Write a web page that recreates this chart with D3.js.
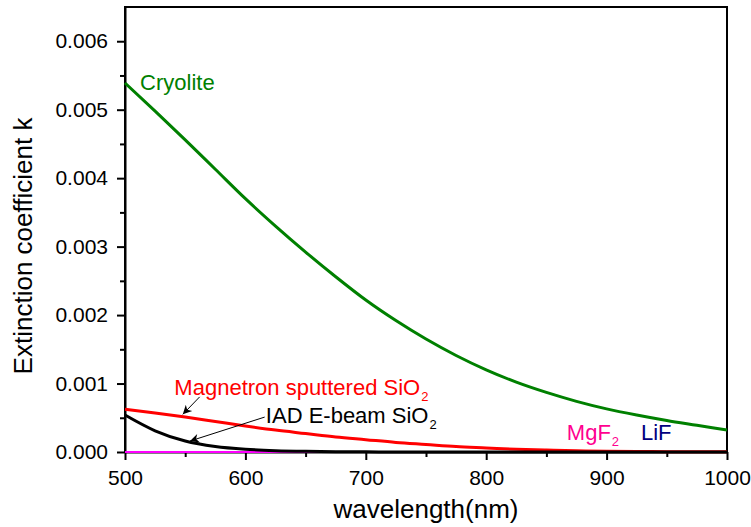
<!DOCTYPE html>
<html>
<head>
<meta charset="utf-8">
<script src="https://cdn.jsdelivr.net/npm/d3@7"></script>
<style>
  body { margin: 0; background: #fff; }
  svg { display: block; font-family: "Liberation Sans", Arial, sans-serif; }
  .tick text { font-size: 21px; fill: #000; }
  .axis path, .axis line { stroke: #000; stroke-width: 2px; }
</style>
</head>
<body>
<svg id="chart" width="751" height="527"></svg>
<script>
// wavelength grid (nm)
const wavelengths = [500, 525, 550, 575, 600, 625, 650, 675, 700, 725, 750, 775, 800, 825, 850, 875, 900, 925, 950, 975, 1000];

// extinction coefficient k
const cryolite = [0.00539, 0.00498, 0.00456, 0.00413, 0.00370, 0.00330, 0.00292, 0.00256, 0.00222, 0.00192, 0.00165, 0.00141, 0.00120, 0.00102, 0.00087, 0.00074, 0.00063, 0.00054, 0.00046, 0.00039, 0.00032];
const magnetronSiO2 = [0.000625, 0.00057, 0.00051, 0.000445, 0.00038, 0.00032, 0.00027, 0.00022, 0.00018, 0.00014, 0.00011, 0.00008, 0.00006, 0.00004, 0.000028, 0.000018, 0.00001, 0.000007, 0.000005, 0.000003, 0.000002];
const iadSiO2 = [0.00054, 0.00031, 0.00016, 0.00008, 0.00004, 0.00002, 0.00001, 0.000005, 0.000002, 0, 0, 0, 0, 0, 0, 0, 0, 0, 0, 0, 0];
const lif = [0, 0, 0, 0, 0, 0, 0, 0, 0, 0, 0, 0, 0, 0, 0, 0, 0, 0, 0, 0, 0];
const mgf2 = [0, 0, 0, 0, 0, 0, 0, 0, 0, 0, 0, 0, 0, 0, 0, 0, 0, 0, 0, 0];   // stops at 975 nm, LiF shows past it

const xTicks = [500, 600, 700, 800, 900, 1000];
const yTicks = [0, 0.001, 0.002, 0.003, 0.004, 0.005, 0.006];

const svg = d3.select('#chart');
const plotL = 125, plotR = 727, plotT = 7, plotB = 452;

const x = d3.scaleLinear().domain([500, 1000]).range([plotL, plotR]);
const y = d3.scaleLinear().domain([0, 0.0065]).range([plotB, plotT]);

// minor ticks
svg.append('g').attr('class', 'axis').attr('transform', `translate(0,${plotB})`)
  .call(d3.axisBottom(x).tickValues([550, 650, 750, 850, 950]).tickSize(5).tickFormat(''))
  .call(g => g.select('.domain').remove());
svg.append('g').attr('class', 'axis').attr('transform', `translate(${plotL},0)`)
  .call(d3.axisLeft(y).tickValues([0.0005, 0.0015, 0.0025, 0.0035, 0.0045, 0.0055]).tickSize(5).tickFormat(''))
  .call(g => g.select('.domain').remove());

// frame
svg.append('path')
  .attr('d', `M${plotL},${plotB}V${plotT}H${plotR}V${plotB}`)
  .attr('fill', 'none').attr('stroke', '#000').attr('stroke-width', 2);

// main axes
svg.append('g').attr('class', 'axis').attr('transform', `translate(0,${plotB})`)
  .call(d3.axisBottom(x).tickValues(xTicks).tickSize(8).tickSizeOuter(0).tickPadding(10).tickFormat(d3.format('d')));
svg.append('g').attr('class', 'axis').attr('transform', `translate(${plotL},0)`)
  .call(d3.axisLeft(y).tickValues(yTicks).tickSize(8).tickSizeOuter(0).tickPadding(9).tickFormat(d3.format('.3f')));

function drawLine(values, color, width) {
  const pts = values.map((v, i) => [wavelengths[i], v]);
  svg.append('path')
    .datum(pts)
    .attr('fill', 'none')
    .attr('stroke', color)
    .attr('stroke-width', width)
    .attr('d', d3.line().x(d => x(d[0])).y(d => y(d[1])).curve(d3.curveMonotoneX));
}

drawLine(lif, '#0000cc', 2);
drawLine(mgf2, '#ff00ff', 2);
drawLine(cryolite, '#008000', 3);
drawLine(magnetronSiO2, '#ff0000', 3);
drawLine(iadSiO2, '#000000', 3);

// axis titles
svg.append('text')
  .attr('x', (plotL + plotR) / 2).attr('y', 518)
  .attr('text-anchor', 'middle').attr('font-size', 26)
  .text('wavelength(nm)');
svg.append('text')
  .attr('transform', 'translate(32,246) rotate(-90)')
  .attr('text-anchor', 'middle').attr('font-size', 26)
  .text('Extinction coefficient k');

// curve labels
const labels = [
  {wl: 512.5, k: 0.00529, text: 'Cryolite', sub: '', color: '#008000'},
  {wl: 541, k: 0.000835, text: 'Magnetron sputtered SiO', sub: '2', color: '#ff0000'},
  {wl: 617, k: 0.000425, text: 'IAD E-beam SiO', sub: '2', color: '#000000'},
  {wl: 867, k: 0.000176, text: 'MgF', sub: '2', color: '#ff0090'},
  {wl: 928.5, k: 0.000176, text: 'LiF', sub: '', color: '#000080'}
];
labels.forEach(l => {
  const t = svg.append('text')
    .attr('x', x(l.wl)).attr('y', y(l.k))
    .attr('font-size', 22).attr('fill', l.color);
  t.append('tspan').text(l.text);
  if (l.sub) t.append('tspan').attr('dx', 1).attr('dy', 6).attr('font-size', 13).text(l.sub);
});

// arrows
svg.append('defs').append('marker')
  .attr('id', 'arrow').attr('viewBox', '0 0 10 10')
  .attr('refX', 10).attr('refY', 5)
  .attr('markerWidth', 12).attr('markerHeight', 9)
  .attr('markerUnits', 'userSpaceOnUse')
  .attr('orient', 'auto')
  .append('path').attr('d', 'M0,0L10,5L0,10L3,5Z').attr('fill', '#000');

const arrows = [
  {from: [562, 0.000805], to: [548, 0.00055]},
  {from: [616, 0.00051], to: [554, 0.00016]}
];
arrows.forEach(a => {
  svg.append('line')
    .attr('x1', x(a.from[0])).attr('y1', y(a.from[1]))
    .attr('x2', x(a.to[0])).attr('y2', y(a.to[1]))
    .attr('stroke', '#000').attr('stroke-width', 1)
    .attr('marker-end', 'url(#arrow)');
});
</script>
</body>
</html>
